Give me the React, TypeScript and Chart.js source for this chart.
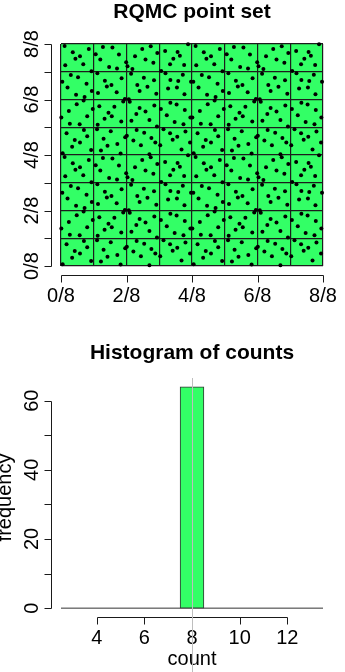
import React, { useEffect, useRef } from "react";
import { Chart, registerables } from "chart.js";

Chart.register(...registerables);

const W = 345;
const H = 672;
const FONT = '"Liberation Sans", Arial, Helvetica, sans-serif';
const GREEN = "#33ff66";
const INK = "#1a1a1a";

// ---- RQMC point set: coordinates in eighths (0..8), read row by row of cells ----
const pointsRow7: number[][] = [
  [0.11, 7.93], [0.36, 7.70], [0.58, 7.56], [0.44, 7.47], [0.85, 7.82], [0.13, 7.23], [0.68, 7.27], [0.93, 7.02],
  [1.28, 7.89], [1.57, 7.87], [1.06, 7.63], [1.20, 7.44], [1.77, 7.62], [1.47, 7.17], [1.71, 7.12], [1.99, 7.34],
  [2.48, 7.82], [2.74, 7.92], [2.26, 7.56], [2.94, 7.68], [2.58, 7.44], [2.18, 7.10], [2.82, 7.32], [2.03, 7.20],
  [3.88, 7.99], [3.18, 7.75], [3.56, 7.71], [3.43, 7.47], [3.63, 7.58], [3.33, 7.27], [3.76, 7.24], [3.06, 7.03],
  [4.11, 7.93], [4.36, 7.70], [4.58, 7.56], [4.44, 7.47], [4.85, 7.82], [4.13, 7.23], [4.68, 7.27], [4.93, 7.02],
  [5.28, 7.89], [5.57, 7.87], [5.06, 7.63], [5.20, 7.44], [5.77, 7.62], [5.47, 7.17], [5.71, 7.12], [5.99, 7.34],
  [6.48, 7.82], [6.74, 7.92], [6.26, 7.56], [6.94, 7.68], [6.58, 7.44], [6.18, 7.10], [6.82, 7.32], [6.03, 7.20],
  [7.88, 7.99], [7.18, 7.75], [7.56, 7.71], [7.43, 7.47], [7.63, 7.58], [7.33, 7.27], [7.76, 7.24], [7.06, 7.03],
];
const pointsRow6: number[][] = [
  [0.04, 6.64], [0.30, 6.88], [0.52, 6.80], [0.20, 6.43], [0.78, 6.57], [0.46, 6.17], [0.72, 6.09], [0.94, 6.31],
  [1.11, 6.95], [1.34, 6.68], [1.54, 6.52], [1.40, 6.47], [1.85, 6.77], [1.70, 6.26], [1.13, 6.23], [1.95, 6.02],
  [2.14, 6.93], [2.53, 6.78], [2.33, 6.52], [2.64, 6.46], [2.84, 6.69], [2.40, 6.31], [2.91, 6.21], [2.07, 6.01],
  [3.19, 6.95], [3.34, 6.70], [3.72, 6.89], [3.58, 6.67], [3.27, 6.40], [3.54, 6.43], [3.77, 6.19], [3.97, 6.64],
  [4.04, 6.64], [4.30, 6.88], [4.52, 6.80], [4.20, 6.43], [4.78, 6.57], [4.46, 6.17], [4.72, 6.09], [4.94, 6.31],
  [5.11, 6.95], [5.34, 6.68], [5.54, 6.52], [5.40, 6.47], [5.85, 6.77], [5.70, 6.26], [5.13, 6.23], [5.95, 6.02],
  [6.14, 6.93], [6.53, 6.78], [6.33, 6.52], [6.64, 6.46], [6.84, 6.69], [6.40, 6.31], [6.91, 6.21], [6.07, 6.01],
  [7.19, 6.95], [7.34, 6.70], [7.72, 6.89], [7.58, 6.67], [7.27, 6.40], [7.54, 6.43], [7.77, 6.19], [7.97, 6.64],
];
const pointsRow5: number[][] = [
  [0.48, 5.83], [0.24, 5.59], [0.01, 5.35], [0.80, 5.40], [0.27, 5.13], [0.57, 5.11], [0.97, 5.66], [0.69, 5.96],
  [1.17, 5.76], [1.45, 5.52], [1.63, 5.74], [1.33, 5.31], [1.55, 5.40], [1.84, 5.21], [1.12, 5.09], [1.90, 5.93],
  [2.40, 5.69], [2.58, 5.57], [2.30, 5.48], [2.15, 5.23], [2.70, 5.26], [2.85, 5.78], [2.10, 5.92], [2.93, 5.03],
  [3.05, 5.66], [3.23, 5.43], [3.34, 5.88], [3.53, 5.82], [3.78, 5.62], [3.47, 5.19], [3.74, 5.11], [3.95, 5.35],
  [4.48, 5.83], [4.24, 5.59], [4.01, 5.35], [4.80, 5.40], [4.27, 5.13], [4.57, 5.11], [4.97, 5.66], [4.69, 5.96],
  [5.17, 5.76], [5.45, 5.52], [5.63, 5.74], [5.33, 5.31], [5.55, 5.40], [5.84, 5.21], [5.12, 5.09], [5.90, 5.93],
  [6.40, 5.69], [6.58, 5.57], [6.30, 5.48], [6.15, 5.23], [6.70, 5.26], [6.85, 5.78], [6.10, 5.92], [6.93, 5.03],
  [7.05, 5.66], [7.23, 5.43], [7.34, 5.88], [7.53, 5.82], [7.78, 5.62], [7.47, 5.19], [7.74, 5.11], [7.95, 5.35],
];
const pointsRow4: number[][] = [
  [0.05, 4.06], [0.17, 4.78], [0.34, 4.30], [0.42, 4.54], [0.58, 4.45], [0.70, 4.90], [0.80, 4.68], [0.92, 4.18],
  [1.10, 4.93], [1.22, 4.16], [1.30, 4.59], [1.42, 4.33], [1.52, 4.86], [1.72, 4.40], [1.82, 4.05], [1.96, 4.64],
  [2.31, 4.90], [2.54, 4.80], [2.01, 4.69], [2.21, 4.52], [2.76, 4.61], [2.44, 4.35], [2.88, 4.45], [2.70, 4.03],
  [3.13, 4.93], [3.33, 4.78], [3.41, 4.55], [3.55, 4.66], [3.80, 4.85], [3.03, 4.35], [3.68, 4.20], [3.94, 4.45],
  [4.05, 4.06], [4.17, 4.78], [4.34, 4.30], [4.42, 4.54], [4.58, 4.45], [4.70, 4.90], [4.80, 4.68], [4.92, 4.18],
  [5.10, 4.93], [5.22, 4.16], [5.30, 4.59], [5.42, 4.33], [5.52, 4.86], [5.72, 4.40], [5.82, 4.05], [5.96, 4.64],
  [6.31, 4.90], [6.54, 4.80], [6.01, 4.69], [6.21, 4.52], [6.76, 4.61], [6.44, 4.35], [6.88, 4.45], [6.70, 4.03],
  [7.13, 4.93], [7.33, 4.78], [7.41, 4.55], [7.55, 4.66], [7.80, 4.85], [7.03, 4.35], [7.68, 4.20], [7.94, 4.45],
];
const pointsRow3: number[][] = [
  [0.11, 3.93], [0.36, 3.70], [0.58, 3.56], [0.44, 3.47], [0.85, 3.82], [0.13, 3.23], [0.68, 3.27], [0.93, 3.02],
  [1.28, 3.89], [1.57, 3.87], [1.06, 3.63], [1.20, 3.44], [1.77, 3.62], [1.47, 3.17], [1.71, 3.12], [1.99, 3.34],
  [2.48, 3.82], [2.74, 3.92], [2.26, 3.56], [2.94, 3.68], [2.58, 3.44], [2.18, 3.10], [2.82, 3.32], [2.03, 3.20],
  [3.88, 3.99], [3.18, 3.75], [3.56, 3.71], [3.43, 3.47], [3.63, 3.58], [3.33, 3.27], [3.76, 3.24], [3.06, 3.03],
  [4.11, 3.93], [4.36, 3.70], [4.58, 3.56], [4.44, 3.47], [4.85, 3.82], [4.13, 3.23], [4.68, 3.27], [4.93, 3.02],
  [5.28, 3.89], [5.57, 3.87], [5.06, 3.63], [5.20, 3.44], [5.77, 3.62], [5.47, 3.17], [5.71, 3.12], [5.99, 3.34],
  [6.48, 3.82], [6.74, 3.92], [6.26, 3.56], [6.94, 3.68], [6.58, 3.44], [6.18, 3.10], [6.82, 3.32], [6.03, 3.20],
  [7.88, 3.99], [7.18, 3.75], [7.56, 3.71], [7.43, 3.47], [7.63, 3.58], [7.33, 3.27], [7.76, 3.24], [7.06, 3.03],
];
const pointsRow2: number[][] = [
  [0.04, 2.64], [0.30, 2.88], [0.52, 2.80], [0.20, 2.43], [0.78, 2.57], [0.46, 2.17], [0.72, 2.09], [0.94, 2.31],
  [1.11, 2.95], [1.34, 2.68], [1.54, 2.52], [1.40, 2.47], [1.85, 2.77], [1.70, 2.26], [1.13, 2.23], [1.95, 2.02],
  [2.14, 2.93], [2.53, 2.78], [2.33, 2.52], [2.64, 2.46], [2.84, 2.69], [2.40, 2.31], [2.91, 2.21], [2.07, 2.01],
  [3.19, 2.95], [3.34, 2.70], [3.72, 2.89], [3.58, 2.67], [3.27, 2.40], [3.54, 2.43], [3.77, 2.19], [3.97, 2.64],
  [4.04, 2.64], [4.30, 2.88], [4.52, 2.80], [4.20, 2.43], [4.78, 2.57], [4.46, 2.17], [4.72, 2.09], [4.94, 2.31],
  [5.11, 2.95], [5.34, 2.68], [5.54, 2.52], [5.40, 2.47], [5.85, 2.77], [5.70, 2.26], [5.13, 2.23], [5.95, 2.02],
  [6.14, 2.93], [6.53, 2.78], [6.33, 2.52], [6.64, 2.46], [6.84, 2.69], [6.40, 2.31], [6.91, 2.21], [6.07, 2.01],
  [7.19, 2.95], [7.34, 2.70], [7.72, 2.89], [7.58, 2.67], [7.27, 2.40], [7.54, 2.43], [7.77, 2.19], [7.97, 2.64],
];
const pointsRow1: number[][] = [
  [0.48, 1.83], [0.24, 1.59], [0.01, 1.35], [0.80, 1.40], [0.27, 1.13], [0.57, 1.11], [0.97, 1.66], [0.69, 1.96],
  [1.17, 1.76], [1.45, 1.52], [1.63, 1.74], [1.33, 1.31], [1.55, 1.40], [1.84, 1.21], [1.12, 1.09], [1.90, 1.93],
  [2.40, 1.69], [2.58, 1.57], [2.30, 1.48], [2.15, 1.23], [2.70, 1.26], [2.85, 1.78], [2.10, 1.92], [2.93, 1.03],
  [3.05, 1.66], [3.23, 1.43], [3.34, 1.88], [3.53, 1.82], [3.78, 1.62], [3.47, 1.19], [3.74, 1.11], [3.95, 1.35],
  [4.48, 1.83], [4.24, 1.59], [4.01, 1.35], [4.80, 1.40], [4.27, 1.13], [4.57, 1.11], [4.97, 1.66], [4.69, 1.96],
  [5.17, 1.76], [5.45, 1.52], [5.63, 1.74], [5.33, 1.31], [5.55, 1.40], [5.84, 1.21], [5.12, 1.09], [5.90, 1.93],
  [6.40, 1.69], [6.58, 1.57], [6.30, 1.48], [6.15, 1.23], [6.70, 1.26], [6.85, 1.78], [6.10, 1.92], [6.93, 1.03],
  [7.05, 1.66], [7.23, 1.43], [7.34, 1.88], [7.53, 1.82], [7.78, 1.62], [7.47, 1.19], [7.74, 1.11], [7.95, 1.35],
];
const pointsRow0: number[][] = [
  [0.05, 0.06], [0.17, 0.78], [0.34, 0.30], [0.42, 0.54], [0.58, 0.45], [0.70, 0.90], [0.80, 0.68], [0.92, 0.18],
  [1.10, 0.93], [1.22, 0.16], [1.30, 0.59], [1.42, 0.33], [1.52, 0.86], [1.72, 0.40], [1.82, 0.05], [1.96, 0.64],
  [2.31, 0.90], [2.54, 0.80], [2.01, 0.69], [2.21, 0.52], [2.76, 0.61], [2.44, 0.35], [2.88, 0.45], [2.70, 0.03],
  [3.13, 0.93], [3.33, 0.78], [3.41, 0.55], [3.55, 0.66], [3.80, 0.85], [3.03, 0.35], [3.68, 0.20], [3.94, 0.45],
  [4.05, 0.06], [4.17, 0.78], [4.34, 0.30], [4.42, 0.54], [4.58, 0.45], [4.70, 0.90], [4.80, 0.68], [4.92, 0.18],
  [5.10, 0.93], [5.22, 0.16], [5.30, 0.59], [5.42, 0.33], [5.52, 0.86], [5.72, 0.40], [5.82, 0.05], [5.96, 0.64],
  [6.31, 0.90], [6.54, 0.80], [6.01, 0.69], [6.21, 0.52], [6.76, 0.61], [6.44, 0.35], [6.88, 0.45], [6.70, 0.03],
  [7.13, 0.93], [7.33, 0.78], [7.41, 0.55], [7.55, 0.66], [7.80, 0.85], [7.03, 0.35], [7.68, 0.20], [7.94, 0.45],
];

const gridCells = 8;
const topXTicks = [0, 2, 4, 6, 8];
const topYTicks = [0, 1, 2, 3, 4, 5, 6, 7, 8];
const topYLabelled = [0, 2, 4, 6, 8];

// ---- Histogram of counts per cell ----
const histBinCenters = [3, 4, 5, 6, 7, 8, 9, 10, 11, 12, 13];
const histFrequency = [0, 0, 0, 0, 0, 64, 0, 0, 0, 0, 0];
const histBreakRange = [2.5, 13.5];
const histYTicks = [0, 10, 20, 30, 40, 50, 60];
const histYLabelled = [0, 20, 40, 60];
const histXTicks = [4, 6, 8, 10, 12];
const expectedCount = 8;

const EXPAND = 0.04;
const LABEL_PX = 20;
const TITLE_PX = 21;

function drawYAxis(ctx: CanvasRenderingContext2D, scale: any, axisX: number, ticks: number[], labelled: number[], fmt: (v: number) => string) {
  ctx.save();
  ctx.strokeStyle = INK;
  ctx.lineWidth = 1;
  const x = Math.round(axisX) + 0.5;
  const p0 = Math.round(scale.getPixelForValue(ticks[0])) + 0.5;
  const p1 = Math.round(scale.getPixelForValue(ticks[ticks.length - 1])) + 0.5;
  ctx.beginPath();
  ctx.moveTo(x, p0);
  ctx.lineTo(x, p1);
  ticks.forEach((t) => {
    const p = Math.round(scale.getPixelForValue(t)) + 0.5;
    ctx.moveTo(x, p);
    ctx.lineTo(x - 7, p);
  });
  ctx.stroke();
  ctx.fillStyle = "#000";
  ctx.font = `${LABEL_PX}px ${FONT}`;
  ctx.textAlign = "center";
  ctx.textBaseline = "alphabetic";
  labelled.forEach((t) => {
    const p = scale.getPixelForValue(t);
    ctx.save();
    ctx.translate(x - 14, p);
    ctx.rotate(-Math.PI / 2);
    ctx.fillText(fmt(t), 0, 0);
    ctx.restore();
  });
  ctx.restore();
}

function drawXAxis(ctx: CanvasRenderingContext2D, scale: any, axisY: number, ticks: number[], fmt: (v: number) => string) {
  ctx.save();
  ctx.strokeStyle = INK;
  ctx.lineWidth = 1;
  const y = Math.round(axisY) + 0.5;
  const p0 = Math.round(scale.getPixelForValue(ticks[0])) + 0.5;
  const p1 = Math.round(scale.getPixelForValue(ticks[ticks.length - 1])) + 0.5;
  ctx.beginPath();
  ctx.moveTo(p0, y);
  ctx.lineTo(p1, y);
  ticks.forEach((t) => {
    const p = Math.round(scale.getPixelForValue(t)) + 0.5;
    ctx.moveTo(p, y);
    ctx.lineTo(p, y + 7);
  });
  ctx.stroke();
  ctx.fillStyle = "#000";
  ctx.font = `${LABEL_PX}px ${FONT}`;
  ctx.textAlign = "center";
  ctx.textBaseline = "alphabetic";
  ticks.forEach((t) => {
    ctx.fillText(fmt(t), scale.getPixelForValue(t), y + 26.5);
  });
  ctx.restore();
}

function drawTitle(ctx: CanvasRenderingContext2D, text: string, x: number, y: number) {
  ctx.save();
  ctx.fillStyle = "#000";
  ctx.font = `bold ${TITLE_PX}px ${FONT}`;
  ctx.textAlign = "center";
  ctx.textBaseline = "alphabetic";
  ctx.fillText(text, x, y);
  ctx.restore();
}

const pointSetPlugin = {
  id: "rPointSet",
  beforeDraw(chart: any) {
    const { ctx, chartArea: a } = chart;
    ctx.save();
    ctx.fillStyle = GREEN;
    ctx.fillRect(a.left, a.top, a.right - a.left, a.bottom - a.top);
    ctx.restore();
  },
  afterDraw(chart: any) {
    const { ctx } = chart;
    const xs = chart.scales.x;
    const ys = chart.scales.y;
    const axisX = xs.getPixelForValue(-EXPAND * gridCells);
    const axisY = ys.getPixelForValue(-EXPAND * gridCells);
    drawYAxis(ctx, ys, axisX, topYTicks, topYLabelled, (v) => `${v}/8`);
    drawXAxis(ctx, xs, axisY, topXTicks, (v) => `${v}/8`);
    drawTitle(ctx, "RQMC point set", (xs.left + xs.right) / 2, 18);
  },
};

const histPlugin = {
  id: "rHist",
  afterDraw(chart: any) {
    const { ctx } = chart;
    const xs = chart.scales.x;
    const ys = chart.scales.y;
    const span = histBreakRange[1] - histBreakRange[0];
    const axisX = xs.getPixelForValue(histBreakRange[0] - EXPAND * span);
    const axisY = ys.getPixelForValue(ys.min);
    drawYAxis(ctx, ys, axisX, histYTicks, histYLabelled, (v) => `${v}`);
    drawXAxis(ctx, xs, axisY, histXTicks, (v) => `${v}`);
    drawTitle(ctx, "Histogram of counts", (xs.left + xs.right) / 2, 359);
    ctx.save();
    ctx.fillStyle = "#000";
    ctx.font = `${LABEL_PX}px ${FONT}`;
    ctx.textAlign = "center";
    ctx.textBaseline = "alphabetic";
    ctx.fillText("count", (xs.left + xs.right) / 2, axisY + 48);
    ctx.translate(axisX - 39.5, (ys.top + ys.bottom) / 2);
    ctx.rotate(-Math.PI / 2);
    ctx.fillText("frequency", 0, 0);
    ctx.restore();
    // reference line at the expected count
    const px = Math.round(xs.getPixelForValue(expectedCount)) + 0.5;
    ctx.save();
    ctx.strokeStyle = "#bebebe";
    ctx.lineWidth = 1;
    ctx.beginPath();
    ctx.moveTo(px, ys.top);
    ctx.lineTo(px, H);
    ctx.stroke();
    ctx.restore();
  },
};

export default function App() {
  const topRef = useRef<HTMLCanvasElement | null>(null);
  const histRef = useRef<HTMLCanvasElement | null>(null);

  useEffect(() => {
    const allPoints = [
      ...pointsRow7, ...pointsRow6, ...pointsRow5, ...pointsRow4,
      ...pointsRow3, ...pointsRow2, ...pointsRow1, ...pointsRow0,
    ].map(([x, y]) => ({ x, y }));

    const hiddenAxis = (min: number, max: number, grid: boolean) => ({
      type: "linear" as const,
      min,
      max,
      offset: false,
      ticks: { display: false, stepSize: 1 },
      grid: grid
        ? { display: true, color: "#1c1c1c", lineWidth: 1.2, drawTicks: false, offset: false }
        : { display: false, drawTicks: false, offset: false },
      border: { display: false },
    });

    const top = new Chart(topRef.current as HTMLCanvasElement, {
      type: "scatter",
      data: {
        datasets: [
          {
            data: allPoints,
            pointRadius: 2,
            pointBackgroundColor: "#000",
            pointBorderWidth: 0,
            clip: false as any,
          },
        ],
      },
      options: {
        responsive: false,
        animation: false,
        devicePixelRatio: 1,
        events: [],
        layout: { padding: { left: 61, right: 22, top: 44, bottom: 406 } },
        plugins: { legend: { display: false }, tooltip: { enabled: false }, title: { display: false } },
        scales: {
          x: hiddenAxis(0, gridCells, true),
          y: hiddenAxis(0, gridCells, true),
        },
      },
      plugins: [pointSetPlugin],
    });

    const hist = new Chart(histRef.current as HTMLCanvasElement, {
      type: "bar",
      data: {
        datasets: [
          {
            type: "bar",
            data: histBinCenters.map((c, i) => ({ x: c, y: histFrequency[i] })),
            backgroundColor: GREEN,
            borderColor: "#333",
            borderWidth: 1,
            borderSkipped: false,
            barPercentage: 1,
            categoryPercentage: 1,
          } as any,
          {
            type: "line",
            data: histBreakRange.map((b) => ({ x: b, y: 0 })),
            borderColor: "#333",
            borderWidth: 1,
            pointRadius: 0,
          } as any,
        ],
      },
      options: {
        responsive: false,
        animation: false,
        devicePixelRatio: 1,
        events: [],
        layout: { padding: { left: 61, right: 22, top: 378, bottom: 55 } },
        plugins: { legend: { display: false }, tooltip: { enabled: false }, title: { display: false } },
        scales: {
          x: hiddenAxis(histBreakRange[0], histBreakRange[1], false),
          y: hiddenAxis(-EXPAND * 64, 64 * (1 + EXPAND), false),
        },
      },
      plugins: [histPlugin],
    });

    return () => {
      top.destroy();
      hist.destroy();
    };
  }, []);

  const canvasStyle: React.CSSProperties = { position: "absolute", left: 0, top: 0, width: W, height: H };
  return (
    <div style={{ position: "absolute", left: 0, top: 0, width: W, height: H, background: "#fff" }}>
      <canvas ref={topRef} width={W} height={H} style={canvasStyle} />
      <canvas ref={histRef} width={W} height={H} style={canvasStyle} />
    </div>
  );
}
